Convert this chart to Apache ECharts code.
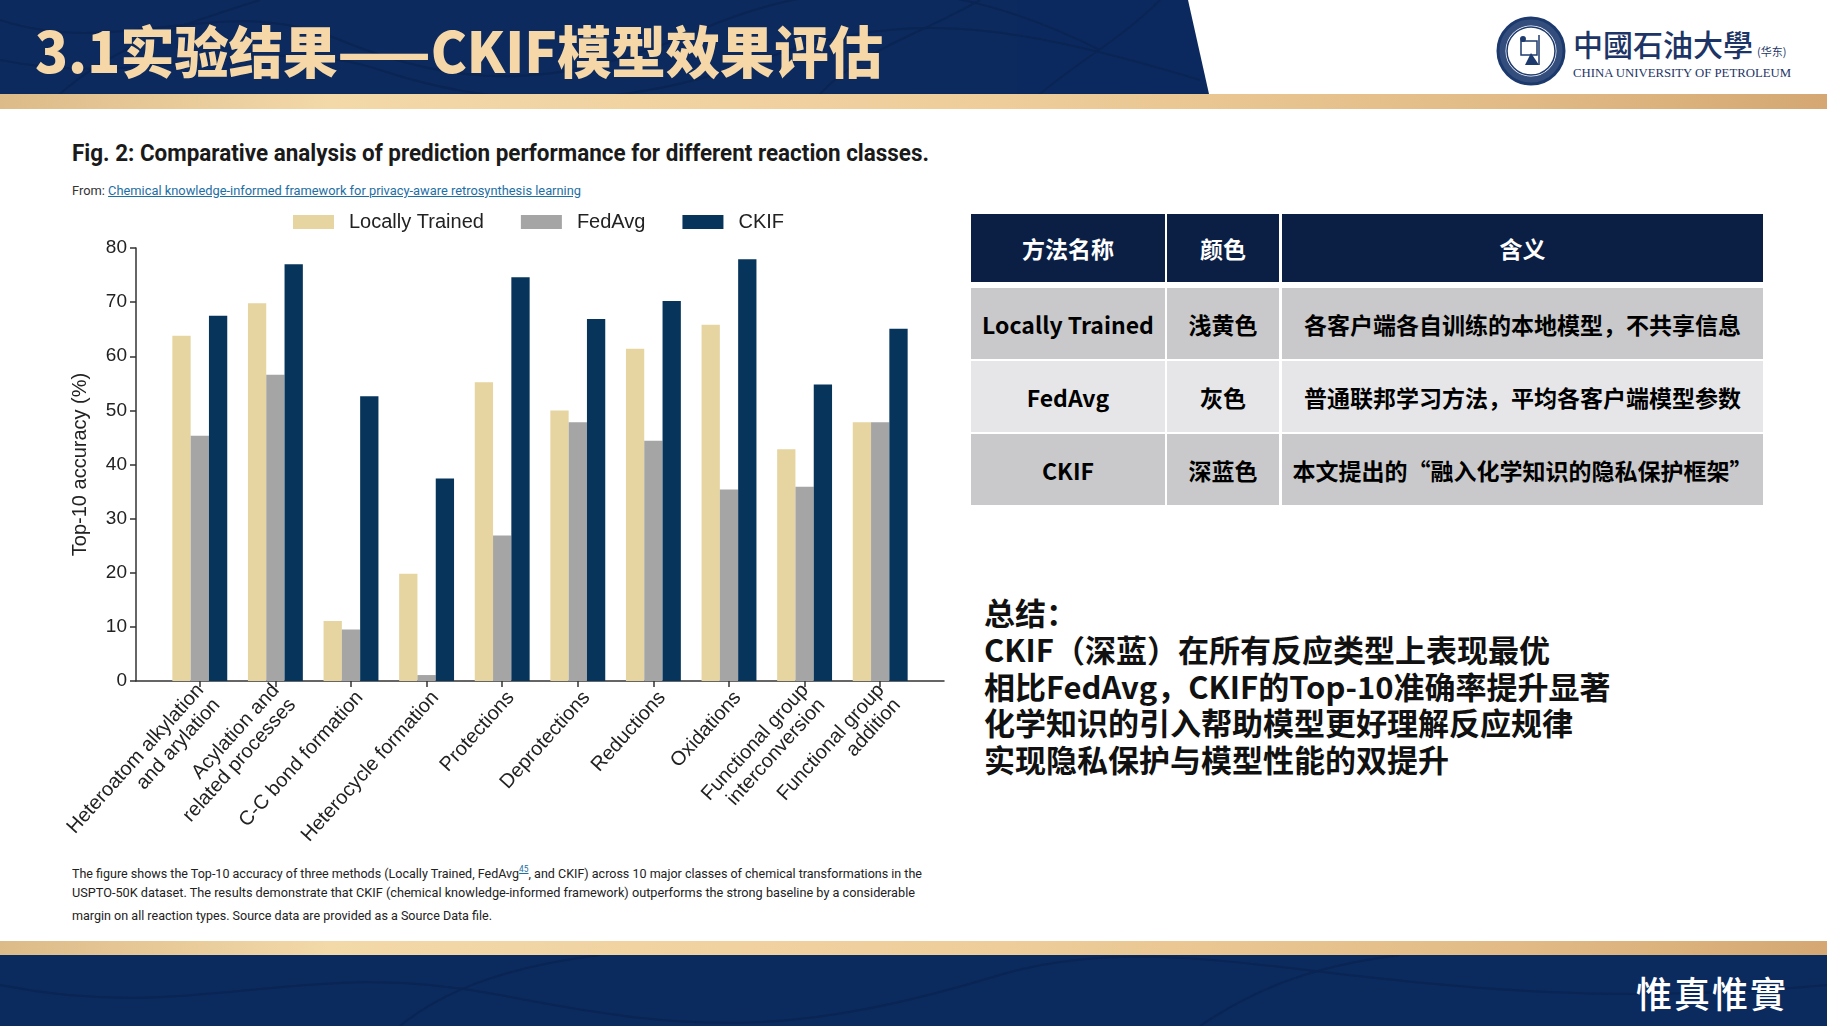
<!DOCTYPE html>
<html>
<head>
<meta charset="utf-8">
<script src="https://cdn.jsdelivr.net/npm/echarts@6/dist/echarts.min.js"></script>
<style>
  html,body{margin:0;padding:0;width:1827px;height:1026px;overflow:hidden;background:#fff;}
  .abs{position:absolute;}
  #header{left:0;top:0;width:1220px;height:94px;background:#0c2a5e;clip-path:polygon(0 0,1188px 0,1209px 94px,0 94px);}
  .stripe{left:0;width:1827px;background:linear-gradient(90deg,#dcbb88 0%,#f3d8a8 18%,#eecd9a 55%,#e3bd88 80%,#d5a873 100%);}
  #footer{left:0;top:955px;width:1827px;height:71px;background:#0b2a5e;}
  #title{left:35px;top:16px;color:#f6d8a8;font-family:"Noto Sans CJK SC";font-weight:900;font-size:56px;line-height:66px;white-space:nowrap;transform-origin:left center;}
  .fit{white-space:nowrap;transform-origin:left center;display:inline-block;}
  #figtitle{left:72px;top:138px;font-family:"Roboto","Liberation Sans",sans-serif;font-weight:700;font-size:24px;line-height:30px;color:#1a1a1a;}
  #from{left:72px;top:183px;font-family:"Roboto","Liberation Sans",sans-serif;font-size:12.5px;line-height:16px;color:#333;}
  #from a{color:#1c6ea4;text-decoration:underline;}
  .cap{left:72px;font-family:"Roboto","Liberation Sans",sans-serif;font-size:13.5px;line-height:16px;color:#222;}
  .cap sup{color:#1c6ea4;font-size:9px;text-decoration:underline;}
  .cell{position:absolute;display:flex;align-items:center;justify-content:center;font-family:"Noto Sans CJK SC";font-weight:700;font-size:23px;white-space:nowrap;}
  .hd{background:#0b1f45;color:#fff;}
  .r1{background:#c9c9cb;color:#000;}
  .r2{background:#e6e6e8;color:#000;}
  #summary{left:984px;top:594px;font-family:"Noto Sans CJK SC";font-weight:700;font-size:31px;line-height:36.8px;color:#111;white-space:nowrap;}
  #motto{left:1636px;top:970px;color:#fff;font-family:"Noto Sans CJK TC";font-weight:500;font-size:36px;line-height:44px;letter-spacing:2px;}
  #uniCn{left:1573px;top:24px;color:#1d3566;font-family:"Noto Sans CJK TC";font-weight:500;font-size:30px;line-height:38px;white-space:nowrap;}
  #uniSub{left:1757px;top:44px;color:#1d3566;font-family:"Noto Sans CJK SC";font-size:11px;line-height:14px;}
  #uniEn{left:1573px;top:66px;color:#1d3566;font-family:"Liberation Serif",serif;font-size:12px;line-height:14px;white-space:nowrap;}
  #chart{left:0;top:0;width:1827px;height:1026px;}
</style>
</head>
<body>
<div id="header" class="abs">
  <svg width="1220" height="94" style="position:absolute;left:0;top:0" fill="none" stroke="#0a2452" stroke-width="2" opacity="0.8">
    <path d="M0 20 C120 60 220 -10 340 40 S560 90 700 30 S960 -20 1100 50"/>
    <path d="M0 60 C150 90 260 30 380 70 S620 110 760 60 S1000 20 1200 80"/>
    <path d="M60 94 C120 40 200 20 260 0"/>
    <path d="M820 94 C860 50 930 30 980 0"/>
    <path d="M1040 94 C1080 60 1120 40 1160 0"/>
  </svg>
</div>
<div class="abs stripe" style="top:94px;height:15px;"></div>
<div class="abs stripe" style="top:941px;height:14px;"></div>
<div id="footer" class="abs">
  <svg width="1827" height="71" style="position:absolute;left:0;top:0" fill="none" stroke="#0a2452" stroke-width="2" opacity="0.8">
    <path d="M0 30 C200 70 300 0 500 40 S800 80 1000 20 S1400 70 1827 30"/>
    <path d="M400 71 C450 30 520 10 600 0"/>
    <path d="M1200 71 C1260 30 1320 10 1400 0"/>
  </svg>
</div>
<div id="title" class="abs"><span id="titleText" class="fit">3.1实验结果——CKIF模型效果评估</span></div>

<svg class="abs" style="left:1495px;top:15px" width="72" height="72" viewBox="0 0 72 72">
  <circle cx="36" cy="36" r="33" fill="#fff" stroke="#1d3a6e" stroke-width="3"/>
  <circle cx="36" cy="36" r="24" fill="#fff" stroke="#1d3a6e" stroke-width="1.5"/>
  <circle cx="36" cy="36" r="29" fill="none" stroke="#1d3a6e" stroke-width="7" opacity="0.9"/>
  <rect x="26" y="26" width="16" height="14" fill="none" stroke="#1d3a6e" stroke-width="1.5"/>
  <path d="M30 50 L36 38 L44 50 Z" fill="#1d3a6e"/>
  <circle cx="28" cy="24" r="3" fill="#1d3a6e"/>
  <line x1="44" y1="20" x2="44" y2="50" stroke="#1d3a6e" stroke-width="1.5"/>
</svg>
<div id="uniCn" class="abs">中國石油大學</div>
<div id="uniSub" class="abs">(华东)</div>
<div id="uniEn" class="abs"><span id="uniEnText" class="fit">CHINA UNIVERSITY OF PETROLEUM</span></div>

<div id="figtitle" class="abs"><span id="figTitleText" class="fit">Fig. 2: Comparative analysis of prediction performance for different reaction classes.</span></div>
<div id="from" class="abs"><span id="fromText" class="fit">From: <a>Chemical knowledge-informed framework for privacy-aware retrosynthesis learning</a></span></div>

<div class="abs cap" style="top:861px;"><span id="cap1" class="fit">The figure shows the Top-10 accuracy of three methods (Locally Trained, FedAvg<sup>45</sup>, and CKIF) across 10 major classes of chemical transformations in the</span></div>
<div class="abs cap" style="top:884px;"><span id="cap2" class="fit">USPTO-50K dataset. The results demonstrate that CKIF (chemical knowledge-informed framework) outperforms the strong baseline by a considerable</span></div>
<div class="abs cap" style="top:907px;"><span id="cap3" class="fit">margin on all reaction types. Source data are provided as a Source Data file.</span></div>

<div id="table"></div>

<div id="summary" class="abs">总结：<br>CKIF（深蓝）在所有反应类型上表现最优<br>相比FedAvg，CKIF的Top-10准确率提升显著<br>化学知识的引入帮助模型更好理解反应规律<br>实现隐私保护与模型性能的双提升</div>

<div id="motto" class="abs">惟真惟實</div>

<div id="chart" class="abs"></div>

<script>
// ---- data ----
const categories = [
  'Heteroatom alkylation\nand arylation',
  'Acylation and\nrelated processes',
  'C-C bond formation',
  'Heterocycle formation',
  'Protections',
  'Deprotections',
  'Reductions',
  'Oxidations',
  'Functional group\ninterconversion',
  'Functional group\naddition'
];
const seriesNames = ['Locally Trained', 'FedAvg', 'CKIF'];
const locallyTrained = [63.8, 69.8, 11.1, 19.8, 55.2, 50.0, 61.4, 65.8, 42.8, 47.8];
const fedAvg = [45.3, 56.6, 9.5, 1.1, 26.9, 47.8, 44.4, 35.4, 35.9, 47.8];
const ckif = [67.5, 77.0, 52.6, 37.4, 74.6, 66.9, 70.2, 77.9, 54.8, 65.1];
const yMin = 0, yMax = 80, yInterval = 10;
const yAxisName = 'Top-10 accuracy (%)';

const tableHeader = ['方法名称', '颜色', '含义'];
const tableRows = [
  ['Locally Trained', '浅黄色', '各客户端各自训练的本地模型，不共享信息'],
  ['FedAvg', '灰色', '普通联邦学习方法，平均各客户端模型参数'],
  ['CKIF', '深蓝色', '本文提出的“融入化学知识的隐私保护框架”']
];

// ---- table ----
(function(){
  const cols = [[971,194],[1167,112],[1282,481]];
  const rows = [[214,68,'hd'],[288,71,'r1'],[361,71,'r2'],[434,71,'r1']];
  const t = document.getElementById('table');
  const all = [tableHeader].concat(tableRows);
  rows.forEach((r,ri)=>{
    cols.forEach((c,ci)=>{
      const d = document.createElement('div');
      d.className = 'cell ' + r[2];
      d.style.left = c[0]+'px'; d.style.top = r[0]+'px';
      d.style.width = c[1]+'px'; d.style.height = r[1]+'px';
      d.textContent = all[ri][ci];
      t.appendChild(d);
    });
  });
})();

// ---- fit text widths ----
function fit(id, w){
  const el = document.getElementById(id);
  const cw = el.getBoundingClientRect().width;
  el.style.transform = 'scaleX(' + (w/cw) + ')';
}
fit('titleText', 848);
fit('figTitleText', 857);
fit('fromText', 509);
fit('cap1', 850);
fit('cap2', 843);
fit('cap3', 420);
fit('uniEnText', 218);

// ---- chart ----
const chart = echarts.init(document.getElementById('chart'), null, {renderer:'canvas'});
const colors = ['#e6d5a1', '#a5a5a5', '#06345b'];
const font = '"Liberation Sans", Arial, sans-serif';
chart.setOption({
  animation: false,
  backgroundColor: 'transparent',
  color: colors,
  legend: {
    left: 288, top: 207,
    itemWidth: 41, itemHeight: 14, itemGap: 37,
    icon: 'rect',
    data: seriesNames,
    textStyle: {fontFamily: font, fontSize: 20, color: '#222', padding: [0,0,0,10]}
  },
  grid: [
    {left: 136, top: 248, width: 808, height: 433},
    {left: 162, top: 248, width: 756, height: 433}
  ],
  xAxis: [
    {type: 'value', gridIndex: 0, min: 0, max: 1, axisLabel:{show:false}, axisTick:{show:false}, splitLine:{show:false},
     axisLine:{show:true, lineStyle:{color:'#333', width:1.5}}},
    {type: 'category', gridIndex: 1, data: categories,
     axisLine:{show:false},
     axisTick:{show:true, alignWithLabel:true, length:6, lineStyle:{color:'#333', width:1.5}},
     axisLabel:{interval:0, rotate:48, fontFamily: font, fontSize: 20, color:'#222', margin: 23, lineHeight: 22, padding: [0,-13,0,0]}}
  ],
  yAxis: [
    {type: 'value', gridIndex: 0, min: yMin, max: yMax, interval: yInterval,
     name: yAxisName, nameLocation: 'middle', nameGap: 46, nameRotate: 90,
     nameTextStyle: {fontFamily: font, fontSize: 20, color: '#222'},
     axisLine:{show:true, lineStyle:{color:'#333', width:1.5}},
     axisTick:{show:true, length:6, lineStyle:{color:'#333', width:1.5}},
     axisLabel:{fontFamily: font, fontSize: 19, color:'#222', margin: 9},
     splitLine:{show:false}},
    {type: 'value', gridIndex: 1, min: yMin, max: yMax, interval: yInterval, show: false, splitLine:{show:false}}
  ],
  series: [
    {name: seriesNames[0], type:'bar', xAxisIndex:1, yAxisIndex:1, data: locallyTrained, barWidth: 18.3, barGap: '0%'},
    {name: seriesNames[1], type:'bar', xAxisIndex:1, yAxisIndex:1, data: fedAvg, barWidth: 18.3, barGap: '0%'},
    {name: seriesNames[2], type:'bar', xAxisIndex:1, yAxisIndex:1, data: ckif, barWidth: 18.3, barGap: '0%'}
  ]
});
</script>
</body>
</html>
